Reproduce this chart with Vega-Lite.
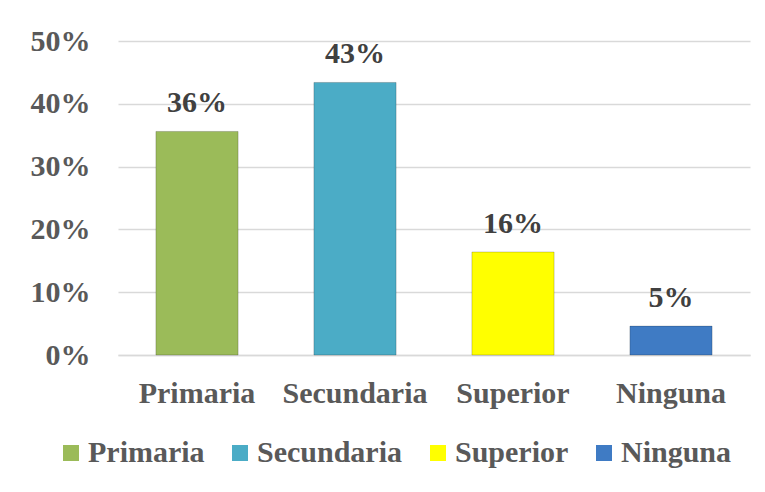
{
  "$schema": "https://vega.github.io/schema/vega-lite/v6.json",
  "width": 632,
  "height": 314,
  "autosize": {"type": "none"},
  "padding": {"left": 118, "top": 41, "right": 15, "bottom": 137},
  "background": "#ffffff",
  "data": {
    "values": [
      {"nivel": "Primaria", "valor": 0.356},
      {"nivel": "Secundaria", "valor": 0.434},
      {"nivel": "Superior", "valor": 0.164},
      {"nivel": "Ninguna", "valor": 0.046}
    ]
  },
  "config": {
    "view": {"stroke": null},
    "font": "Liberation Serif"
  },
  "encoding": {
    "x": {
      "field": "nivel",
      "type": "nominal",
      "sort": ["Primaria", "Secundaria", "Superior", "Ninguna"],
      "scale": {"paddingInner": 0.48, "paddingOuter": 0.24},
      "axis": {
        "title": null,
        "labelAngle": 0,
        "labelFont": "Liberation Serif",
        "labelFontSize": 30,
        "labelFontWeight": "bold",
        "labelColor": "#595959",
        "labelPadding": 23,
        "ticks": false,
        "domain": true,
        "domainColor": "#d9d9d9",
        "domainWidth": 1.5
      }
    },
    "y": {
      "field": "valor",
      "type": "quantitative",
      "scale": {"domain": [0, 0.5]},
      "axis": {
        "title": null,
        "values": [0, 0.1, 0.2, 0.3, 0.4, 0.5],
        "format": ".0%",
        "labelFont": "Liberation Serif",
        "labelFontSize": 30,
        "labelFontWeight": "bold",
        "labelColor": "#595959",
        "labelPadding": 28,
        "ticks": false,
        "domain": false,
        "gridColor": "#d9d9d9",
        "gridWidth": 1.5
      }
    }
  },
  "layer": [
    {
      "mark": {"type": "bar", "stroke": "#000000", "strokeOpacity": 0.2, "strokeWidth": 1},
      "encoding": {
        "color": {
          "field": "nivel",
          "type": "nominal",
          "sort": ["Primaria", "Secundaria", "Superior", "Ninguna"],
          "scale": {
            "domain": ["Primaria", "Secundaria", "Superior", "Ninguna"],
            "range": ["#9bbb59", "#4bacc6", "#ffff00", "#3f7bc4"]
          },
          "legend": {
            "title": null,
            "orient": "none",
            "direction": "horizontal",
            "legendX": -62,
            "legendY": 397,
            "symbolType": "square",
            "symbolSize": 256,
            "symbolStrokeWidth": 0,
            "labelFont": "Liberation Serif",
            "labelFontSize": 30,
            "labelFontWeight": "bold",
            "labelColor": "#595959",
            "labelOffset": 2,
            "columnPadding": 20
          }
        }
      }
    },
    {
      "mark": {
        "type": "text",
        "baseline": "alphabetic",
        "dy": -19,
        "font": "Liberation Serif",
        "fontSize": 30,
        "fontWeight": "bold",
        "color": "#404040"
      },
      "encoding": {
        "text": {"field": "valor", "type": "quantitative", "format": ".0%"}
      }
    }
  ]
}
